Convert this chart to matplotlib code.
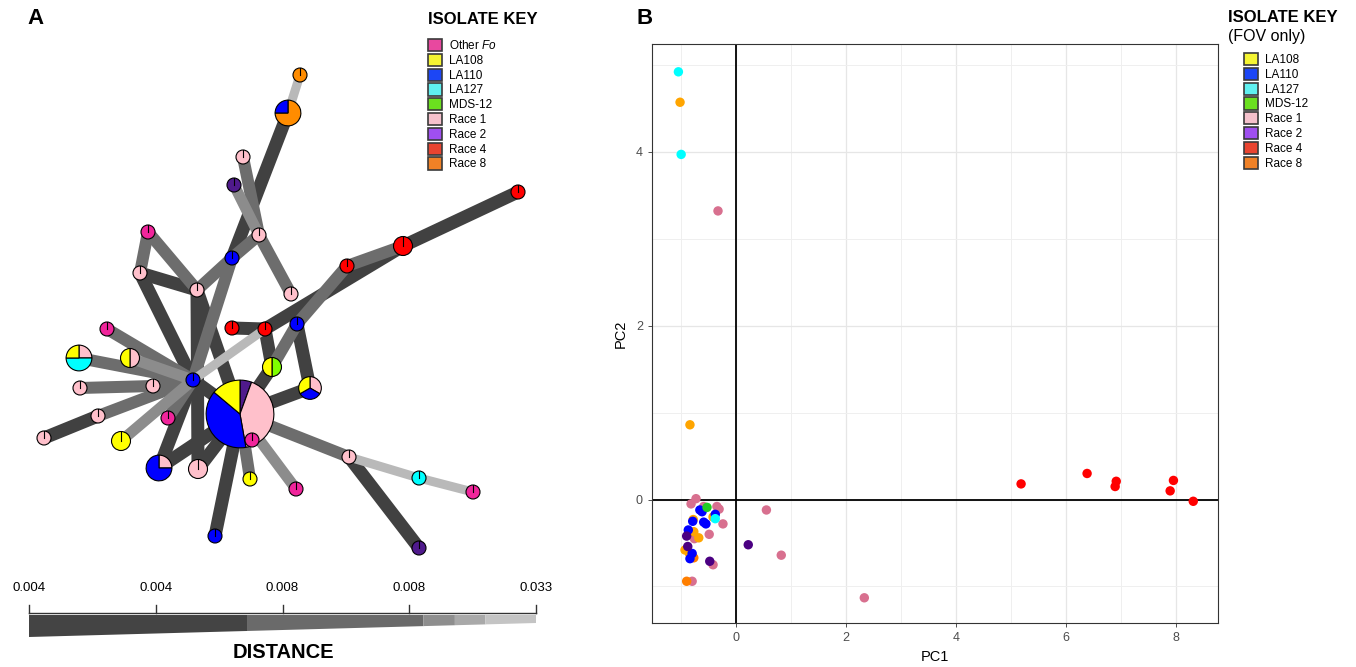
import numpy as np
import matplotlib
matplotlib.use("Agg")
import matplotlib.pyplot as plt
from matplotlib.patches import Wedge, Patch, Polygon

plt.rcParams['font.family'] = ['Liberation Sans', 'DejaVu Sans']
plt.rcParams['mathtext.fontset'] = 'custom'
plt.rcParams['mathtext.it'] = 'Liberation Sans:italic'
plt.rcParams['mathtext.rm'] = 'Liberation Sans'

# ---------------- data ----------------
# isolate groups, colours used on the network nodes / scatter and in the keys
groups = ["Other Fo", "LA108", "LA110", "LA127", "MDS-12", "Race 1", "Race 2", "Race 4", "Race 8"]
node_colors = ["#f0259b", "#ffff00", "#0000ff", "#00ffff", "#7fff00", "#ffc0cb", "#4f1a8c", "#ff0000", "#ff8c00"]
key_colors = ["#e8489f", "#f5f532", "#1c46f5", "#5ff0f0", "#6be01f", "#f5c1cc", "#9f4ff0", "#e94430", "#f08126"]
key_labels_a = ["Other $\\mathit{Fo}$", "LA108", "LA110", "LA127", "MDS-12", "Race 1", "Race 2", "Race 4", "Race 8"]

# panel A: minimum spanning network layout
node_x = [300, 288, 243, 234, 518, 148, 259, 232, 403, 347, 140, 197, 291, 297, 232, 265, 107, 79, 130, 272,
          193, 80, 153, 240, 310, 168, 98, 44, 121, 252, 159, 198, 250, 296, 349, 419, 473, 215, 419]
node_y = [75, 113, 157, 185, 192, 232, 235, 258, 246, 266, 273, 290, 294, 324, 328, 329, 329, 358, 358, 367,
          380, 388, 386, 414, 388, 418, 416, 438, 441, 440, 468, 469, 479, 489, 457, 478, 492, 536, 548]
# isolates per node (group, count), clockwise from 12 o'clock
node_members = [
    [("Race 8", 1)], [("Race 8", 3), ("LA110", 1)], [("Race 1", 1)], [("Race 2", 1)], [("Race 4", 1)],
    [("Other Fo", 1)], [("Race 1", 1)], [("LA110", 1)], [("Race 4", 2)], [("Race 4", 1)],
    [("Race 1", 1)], [("Race 1", 1)], [("Race 1", 1)], [("LA110", 1)], [("Race 4", 1)],
    [("Race 4", 1)], [("Other Fo", 1)], [("Race 1", 1), ("LA127", 2), ("LA108", 1)],
    [("Race 1", 1), ("LA108", 1)], [("MDS-12", 1), ("LA108", 1)],
    [("LA110", 1)], [("Race 1", 1)], [("Race 1", 1)],
    [("Race 2", 2), ("Race 1", 15), ("LA110", 14), ("LA108", 5)],
    [("Race 1", 1), ("LA110", 1), ("LA108", 1)], [("Other Fo", 1)], [("Race 1", 1)], [("Race 1", 1)],
    [("LA108", 2)], [("Other Fo", 1)], [("Race 1", 1), ("LA110", 3)], [("Race 1", 2)],
    [("LA108", 1)], [("Other Fo", 1)], [("Race 1", 1)], [("LA127", 1)], [("Other Fo", 1)],
    [("LA110", 1)], [("Race 2", 1)],
]
edge_from = [0, 1, 2, 3, 6, 6, 7, 7, 5, 5, 10, 10, 11, 11, 4, 8, 9, 9, 14, 15, 13, 13, 20, 16, 17, 18, 21, 22,
             27, 26, 28, 25, 20, 30, 30, 31, 19, 24, 23, 23, 23, 23, 34, 35, 34]
edge_to = [1, 7, 6, 6, 12, 7, 11, 20, 10, 11, 11, 20, 31, 23, 8, 15, 8, 13, 15, 19, 19, 24, 15, 20, 20, 20, 22, 20,
           26, 20, 20, 20, 23, 20, 23, 23, 23, 23, 37, 32, 33, 34, 35, 36, 38]
edge_dist = [0.020, 0.004, 0.006, 0.008, 0.006, 0.006, 0.006, 0.006, 0.006, 0.006, 0.004, 0.004, 0.004, 0.004,
             0.004, 0.004, 0.006, 0.006, 0.004, 0.004, 0.006, 0.004, 0.020, 0.006, 0.006, 0.008, 0.006, 0.006,
             0.004, 0.006, 0.008, 0.006, 0.004, 0.004, 0.004, 0.004, 0.004, 0.004, 0.004, 0.006, 0.008, 0.006,
             0.020, 0.020, 0.004]
scale_labels = ["0.004", "0.004", "0.008", "0.008", "0.033"]
scale_breaks = [0.0, 0.43, 0.778, 0.84, 0.9, 1.0]
scale_grays = ["#444444", "#6a6a6a", "#8e8e8e", "#a9a9a9", "#c4c4c4"]

# panel B: PCA of FOV isolates
pc_pink = dict(x=[-0.33, 0.55, 0.82, 2.33, -0.73, -0.82, -0.59, -0.35, -0.31, -0.24, -0.49, -0.42, -0.80, -0.76],
               y=[3.32, -0.12, -0.64, -1.13, 0.01, -0.05, -0.08, -0.08, -0.11, -0.28, -0.40, -0.75, -0.94, -0.45])
pc_orange = dict(x=[-1.02, -0.84, -0.42, -0.78, -0.77, -0.68, -0.93, -0.85],
                 y=[4.57, 0.86, -0.20, -0.23, -0.37, -0.44, -0.58, -0.62])
pc_darkorange = dict(x=[-0.77, -0.90], y=[-0.67, -0.94])
pc_blue = dict(x=[-0.62, -0.38, -0.79, -0.59, -0.55, -0.87, -0.80, -0.84, -0.66],
               y=[-0.14, -0.17, -0.25, -0.26, -0.28, -0.35, -0.62, -0.68, -0.12])
pc_purple = dict(x=[0.22, -0.90, -0.88, -0.48], y=[-0.52, -0.42, -0.54, -0.71])
pc_cyan = dict(x=[-1.05, -1.00, -0.38], y=[4.92, 3.97, -0.22])
pc_green = dict(x=[-0.53], y=[-0.09])
pc_red = dict(x=[5.18, 6.38, 6.91, 6.89, 7.95, 7.89, 8.31], y=[0.18, 0.30, 0.21, 0.15, 0.22, 0.10, -0.02])

W, H = 1356, 667
fig = plt.figure(figsize=(W / 100, H / 100), dpi=100)

# ---------------- panel A ----------------
axA = fig.add_axes([0, 0, 570 / W, 1])
axA.set_xlim(0, 570)
axA.set_ylim(H, 0)
axA.axis('off')


def edge_style(d):
    if d <= 0.005:
        return "#414141", 13
    if d <= 0.007:
        return "#6d6d6d", 12
    if d <= 0.009:
        return "#8c8c8c", 11
    return "#b9b9b9", 9


order = np.argsort(edge_dist, kind='stable')
for i in order:
    a, b = edge_from[i], edge_to[i]
    col, wpx = edge_style(edge_dist[i])
    axA.plot([node_x[a], node_x[b]], [node_y[a], node_y[b]], color=col, lw=wpx * 0.72,
             solid_capstyle='butt', zorder=1)

color_of = dict(zip(groups, node_colors))
for x, y, members in zip(node_x, node_y, node_members):
    n = sum(c for _, c in members)
    r = 7 * n ** 0.44
    if len(members) == 1:
        axA.add_patch(plt.Circle((x, y), r, facecolor=color_of[members[0][0]], edgecolor='black',
                                 lw=0.8, zorder=3))
        axA.plot([x, x], [y, y - r], color='black', lw=0.8, zorder=4)
        continue
    # y axis is inverted, so clockwise on screen = counter-clockwise in data
    start = -90.0
    for g, c in members:
        span = 360.0 * c / n
        axA.add_patch(Wedge((x, y), r, start, start + span, facecolor=color_of[g], edgecolor='black',
                            lw=0.8, zorder=3))
        start += span

# distance scale bar
bar_l, bar_r = 29, 536
tick_x = np.linspace(bar_l, bar_r, len(scale_labels))
axA.plot([bar_l, bar_r], [613, 613], color='#333333', lw=1.0)
for tx, lab in zip(tick_x, scale_labels):
    axA.plot([tx, tx], [613, 605], color='#333333', lw=1.0)
    axA.text(tx, 588, lab, ha='center', va='center', fontsize=9.5)
for f0, f1, g in zip(scale_breaks[:-1], scale_breaks[1:], scale_grays):
    x0 = bar_l + f0 * (bar_r - bar_l)
    x1 = bar_l + f1 * (bar_r - bar_l)
    axA.add_patch(Polygon([(x0, 615), (x1, 615), (x1, 637 - 14 * f1), (x0, 637 - 14 * f0)],
                          closed=True, facecolor=g, edgecolor='none'))
fig.text(283 / W, 1 - 653 / H, "DISTANCE", ha='center', va='center', fontsize=14.5, weight='bold')

fig.text(35 / W, 1 - 19 / H, "A", ha='center', va='center', fontsize=16, weight='bold')
fig.text(428 / W, 1 - 19 / H, "ISOLATE KEY", ha='left', va='center', fontsize=12, weight='bold')
handles_a = [Patch(facecolor=c, edgecolor='#3a3a3a', lw=1.2) for c in key_colors]
fig.legend(handles_a, key_labels_a, loc='upper left', bbox_to_anchor=(428 / W, 1 - 39 / H), frameon=False,
           fontsize=8.5, handlelength=1.2, handleheight=1.2, handletextpad=0.6, labelspacing=0.15,
           borderpad=0, borderaxespad=0)

# ---------------- panel B ----------------
axB = fig.add_axes([652 / W, 44 / H, 566 / W, 579 / H])
axB.set_xlim(-1.53, 8.76)
axB.set_ylim(-1.42, 5.24)
axB.set_xticks([0, 2, 4, 6, 8])
axB.set_xticks([-1, 1, 3, 5, 7], minor=True)
axB.set_yticks([0, 2, 4])
axB.set_yticks([-1, 1, 3, 5], minor=True)
axB.grid(which='major', color='#e6e6e6', lw=0.9)
axB.grid(which='minor', color='#efefef', lw=0.7)
axB.set_axisbelow(True)
axB.tick_params(which='major', length=3, color='#333333', labelcolor='#4d4d4d', labelsize=9, width=0.6)
axB.tick_params(which='minor', length=0)
for s in axB.spines.values():
    s.set_color('#333333')
    s.set_linewidth(0.8)
axB.axhline(0, color='black', lw=1.3, zorder=1.5)
axB.axvline(0, color='black', lw=1.3, zorder=1.5)

pts = [(pc_pink, "#d8708f"), (pc_orange, "#ffa500"), (pc_darkorange, "#ff7f00"), (pc_blue, "#0000ff"),
       (pc_purple, "#4b0082"), (pc_cyan, "#00ffff"), (pc_green, "#22cc22"), (pc_red, "#ff0000")]
for d, c in pts:
    axB.scatter(d['x'], d['y'], s=46, color=c, edgecolors='none', zorder=3)
axB.set_xlabel("PC1", fontsize=10.5, labelpad=4)
axB.set_ylabel("PC2", fontsize=10.5, labelpad=6)

fig.text(645 / W, 1 - 19 / H, "B", ha='center', va='center', fontsize=16, weight='bold')
fig.text(1228 / W, 1 - 18 / H, "ISOLATE KEY", ha='left', va='center', fontsize=12, weight='bold')
fig.text(1228 / W, 1 - 36 / H, "(FOV only)", ha='left', va='center', fontsize=11.5)
handles_b = [Patch(facecolor=c, edgecolor='#3a3a3a', lw=1.2) for c in key_colors[1:]]
fig.legend(handles_b, groups[1:], loc='upper left', bbox_to_anchor=(1244 / W, 1 - 53 / H), frameon=False,
           fontsize=8.5, handlelength=1.2, handleheight=1.2, handletextpad=0.6, labelspacing=0.15,
           borderpad=0, borderaxespad=0)

fig.savefig("out.png", dpi=100)
